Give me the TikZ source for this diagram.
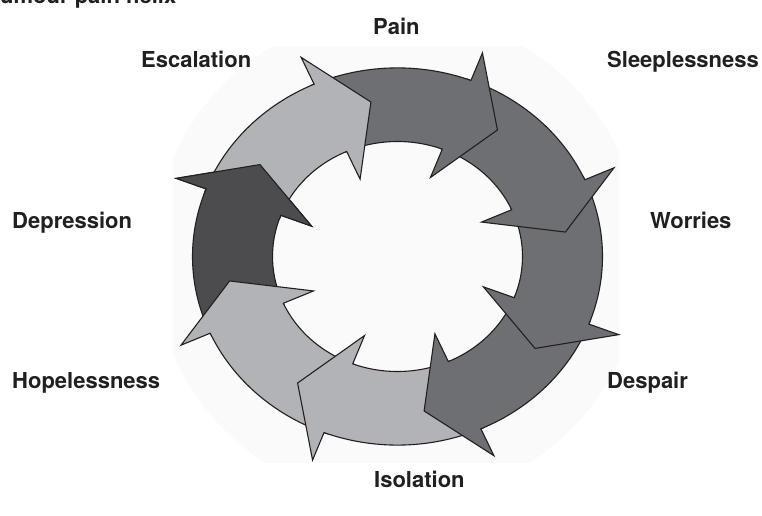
\documentclass[tikz,border=0pt]{standalone}
\usepackage{fontspec}
\setmainfont{TeX Gyre Heros}
\definecolor{bgfill}{HTML}{FAFAFA}
\definecolor{lightarrow}{HTML}{B2B3B7}
\definecolor{midarrow}{HTML}{6E6F73}
\definecolor{darkarrow}{HTML}{4C4C4E}
\definecolor{outline}{HTML}{231F20}
\newcommand\ringarrow[2]{%
  \filldraw[ringarrowstyle, fill=#2]
    ({#1+46}:205pt) arc[start angle={#1+46}, end angle={#1}, radius=205pt]
    -- ({#1}:237pt) -- ({#1-15}:170pt) -- ({#1}:92pt) -- ({#1}:125pt)
    arc[start angle={#1}, end angle={#1+46}, radius=125pt] -- cycle;}
\begin{document}
\begin{tikzpicture}[x=1pt,y=1pt,
  ringarrowstyle/.style={draw=outline, line width=1.1pt, line join=miter},
  lbl/.style={inner sep=0pt, anchor=base west, text=outline,
    font=\bfseries\fontsize{22}{26}\selectfont}]
\useasboundingbox (0,0) rectangle (762,515);
% faint background
\begin{scope}
  \clip (173,53) rectangle (619,468);
  \fill[bgfill] (397.5,258.5) circle (245pt);
\end{scope}
% ring of arrows
\begin{scope}[shift={(397.5,258.5)}, yscale=0.92]
  \ringarrow{-201}{darkarrow}
  \ringarrow{-156}{lightarrow}
  \ringarrow{-111}{lightarrow}
  \ringarrow{-66}{midarrow}
  \ringarrow{-21}{midarrow}
  \ringarrow{24}{midarrow}
  \ringarrow{69}{midarrow}
  \ringarrow{114}{lightarrow}
  \begin{scope}
    \clip (0,0) -- (161:270pt) arc[start angle=161, end angle=137, radius=270pt] -- cycle;
    \ringarrow{-201}{darkarrow}
  \end{scope}
\end{scope}
% texts
\node[lbl] (title) at (0,511) {umour pain helix};
\node[lbl] (pain) at (373,480) {Pain};
\node[lbl] (escalation) at (141,447) {Escalation};
\node[lbl] (sleeplessness) at (607,447) {Sleeplessness};
\node[lbl] (depression) at (12,287) {Depression};
\node[lbl] (worries) at (650,287) {Worries};
\node[lbl] (hopelessness) at (12,127) {Hopelessness};
\node[lbl] (despair) at (607,127) {Despair};
\node[lbl] (isolation) at (374,28) {Isolation};
\end{tikzpicture}
\end{document}
